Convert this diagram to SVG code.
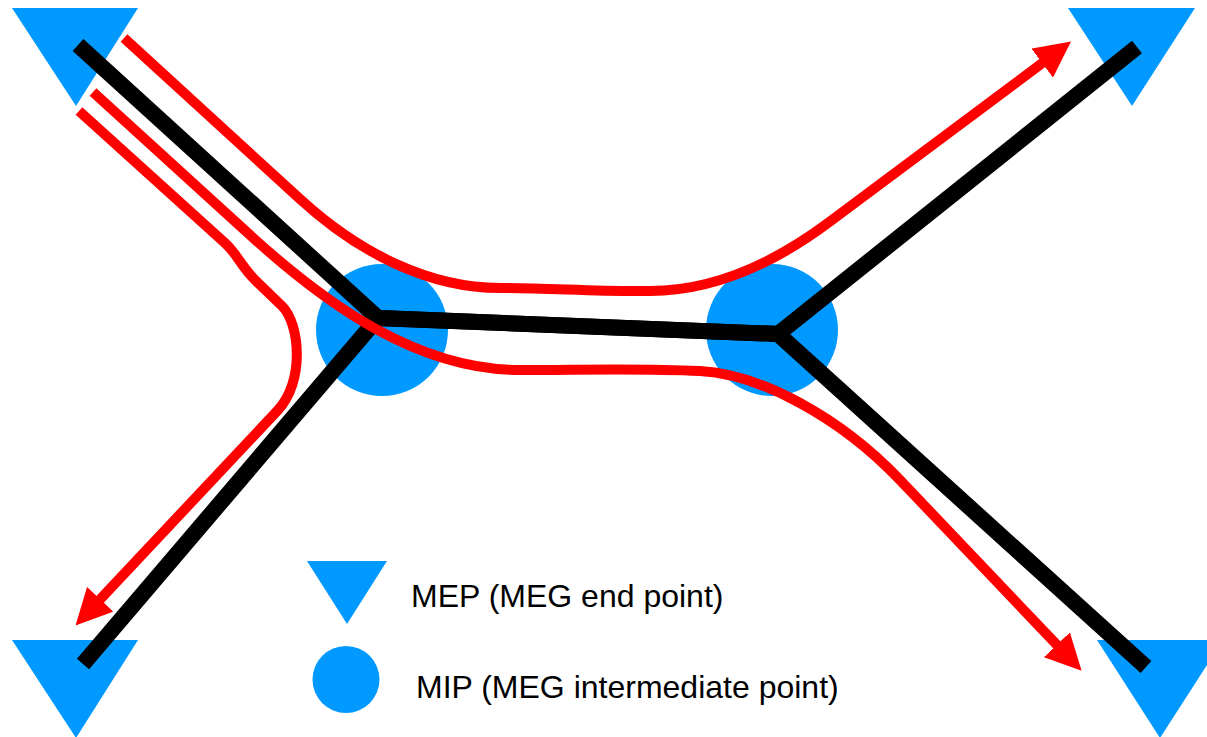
<svg xmlns="http://www.w3.org/2000/svg" width="1207" height="737" viewBox="0 0 1207 737">
<style>
.node{fill:#0099ff}
.link{fill:none;stroke:#000;stroke-width:16;stroke-linejoin:miter;stroke-linecap:butt}
.flow{fill:none;stroke:#ff0000;stroke-width:10;stroke-linecap:butt;stroke-linejoin:round}
.lbl{font-family:"Liberation Sans",Arial,sans-serif;font-size:32px;fill:#000}
</style>
<defs>
<marker id="ah" markerUnits="userSpaceOnUse" markerWidth="36" markerHeight="36" viewBox="0 0 36 36" refX="1" refY="18" orient="auto">
<path d="M0,0 L36,18 L0,36 z" fill="#ff0000"/>
</marker>
</defs>
<rect width="1207" height="737" fill="#fff"/>
<g id="mep-top-left"><polygon class="node" points="12,8 138,8 76,106"/></g>
<g id="mep-top-right"><polygon class="node" points="1068,8 1195,8 1132,106"/></g>
<g id="mep-bottom-left"><polygon class="node" points="12,640 138,640 76,738"/></g>
<g id="mep-bottom-right"><polygon class="node" points="1097,640 1223,640 1160,738"/></g>
<g id="mip-left"><circle class="node" cx="382" cy="330" r="66"/></g>
<g id="mip-right"><circle class="node" cx="772" cy="330" r="66"/></g>
<g id="connectors">
<path class="link" d="M78,45 L378,318 L778,334 L1137,47"/>
<path class="link" d="M83,664 L378,318 L778,334 L1146,667"/>
<path class="flow" marker-end="url(#ah)" d="M124,38 L300,199 C360,254 430,288 500,288 C550,288 600,292 650,291 C700,291 760,274 830,221.6 L1043,62.5"/>
<path class="flow" marker-end="url(#ah)" d="M93,92 L250,235 C330,308 420,370 520,370 C580,370 640,368 700,371 C760,374 840,417 900,480 L1057.5,645.5"/>
<path class="flow" marker-end="url(#ah)" d="M79,111 L225,243 C238,255 240,265 255,280 L282,306 C300,324 305,381.3 277.6,410.5 L99.5,600"/>
</g>
<g id="legend-mep">
<polygon class="node" points="307,561 387,561 347,624"/>
<text class="lbl" x="411" y="607">MEP (MEG end point)</text>
</g>
<g id="legend-mip">
<circle class="node" cx="346" cy="679.5" r="33.5"/>
<text class="lbl" x="416" y="698">MIP (MEG intermediate point)</text>
</g>
</svg>
